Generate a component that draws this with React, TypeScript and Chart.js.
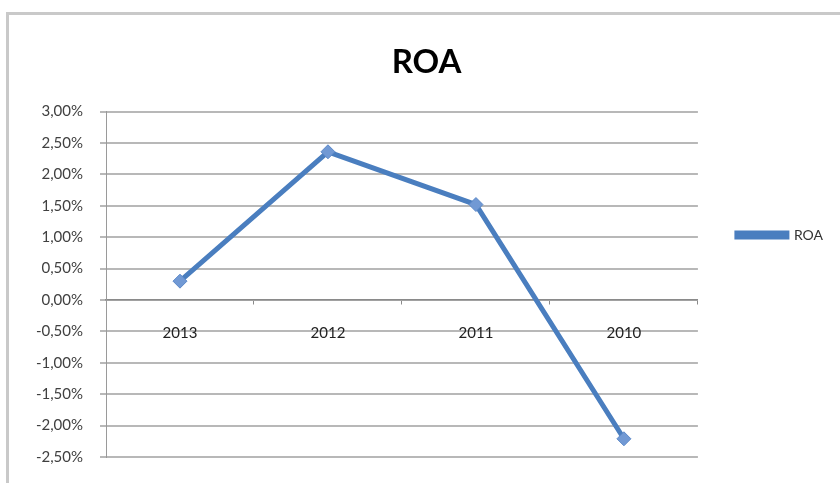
import React, { useEffect, useRef } from "react";
import { Chart, registerables } from "chart.js";

Chart.register(...registerables);

const categories = ["2013", "2012", "2011", "2010"];
const roaValues = [0.003, 0.0236, 0.0152, -0.0221];
const yTickValues = [-0.025, -0.02, -0.015, -0.01, -0.005, 0, 0.005, 0.01, 0.015, 0.02, 0.025, 0.03];
const yTickLabels = ["-2,50%", "-2,00%", "-1,50%", "-1,00%", "-0,50%", "0,00%", "0,50%", "1,00%", "1,50%", "2,00%", "2,50%", "3,00%"];
const seriesName = "ROA";
const chartTitle = "ROA";

export default function App() {
  const canvasRef = useRef<HTMLCanvasElement | null>(null);

  useEffect(() => {
    document.body.style.margin = "0";
    const ctx = canvasRef.current;
    if (!ctx) return;
    const chart = new Chart(ctx, {
      type: "line",
      data: {
        labels: categories,
        datasets: [
          {
            label: seriesName,
            data: roaValues,
            borderColor: "#4a7ebf",
            backgroundColor: "#4a7ebf",
            borderWidth: 5,
            pointStyle: "rectRot",
            pointRadius: 7,
            pointBackgroundColor: "#7199d4",
            pointBorderColor: "#5b88c8",
            pointBorderWidth: 1,
            tension: 0,
          },
        ],
      },
      options: {
        responsive: false,
        animation: false,
        layout: { padding: { top: 12, bottom: 25, left: 20, right: 7 } },
        plugins: {
          title: {
            display: true,
            text: chartTitle,
            font: { family: "Lato", size: 33, weight: "bold" },
            color: "#000",
            padding: { top: 31, bottom: 29 },
          },
          legend: {
            display: true,
            position: "right",
            labels: {
              boxWidth: 50,
              boxHeight: 4,
              padding: 39,
              color: "#333",
              font: { family: "Lato", size: 14 },
            },
          },
          tooltip: { enabled: false },
        },
        scales: {
          x: {
            type: "category",
            position: { y: 0 } as any,
            offset: true,
            grid: {
              display: true,
              drawOnChartArea: false,
              offset: true,
              tickLength: 4,
              color: "#8a8a8a",
            },
            border: { display: true, color: "#8a8a8a", width: 1.5 },
            ticks: {
              padding: 20,
              color: "#222",
              font: { family: "Lato", size: 15 },
              maxRotation: 0,
            },
          },
          y: {
            min: -0.025,
            max: 0.03,
            afterBuildTicks: (scale: any) => {
              scale.ticks = yTickValues.map((v) => ({ value: v }));
            },
            afterFit: (scale: any) => {
              scale.width = 86;
            },
            grid: {
              color: "#b8b8b8",
              lineWidth: 2,
              tickLength: 6,
            },
            border: { display: true, color: "#9a9a9a", width: 1 },
            ticks: {
              padding: 17,
              color: "#404040",
              font: { family: "Lato", size: 15 },
              callback: (value: any) => {
                const i = yTickValues.findIndex((v) => Math.abs(v - Number(value)) < 1e-9);
                return i >= 0 ? yTickLabels[i] : "";
              },
            },
          },
        },
      },
    });
    return () => chart.destroy();
  }, []);

  return (
    <div style={{ position: "fixed", left: 0, top: 0, width: 840, height: 483, background: "#fff", overflow: "hidden" }}>
      <div
        style={{
          position: "absolute",
          left: 6,
          top: 12,
          width: 840,
          height: 480,
          borderLeft: "3px solid #c9c9c9",
          borderTop: "3px solid #c9c9c9",
          boxSizing: "border-box",
        }}
      />
      <canvas ref={canvasRef} width={840} height={483} style={{ position: "absolute", left: 0, top: 0 }} />
    </div>
  );
}
